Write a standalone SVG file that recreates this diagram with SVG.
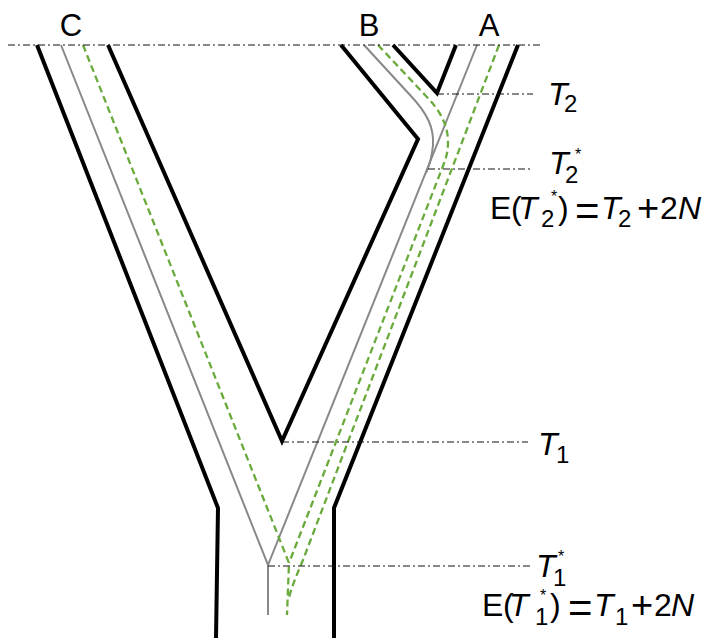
<svg xmlns="http://www.w3.org/2000/svg" width="709" height="638" viewBox="0 0 709 638">
<style>
.sp{fill:none;stroke:#000;stroke-width:4;stroke-linejoin:miter}
.gn{fill:none;stroke:#888;stroke-width:2}
.gd{fill:none;stroke:#6aaa3c;stroke-width:2.3;stroke-dasharray:7 4}
.tl{fill:none;stroke:#111;stroke-width:1;stroke-dasharray:7 3 2 3}
text{font-family:"Liberation Sans",Arial,sans-serif;fill:#000;font-size:32px}
.lb{text-anchor:middle;font-size:31px}
.i{font-style:italic}
.s{font-size:24px}
.a{font-size:16px}
.eq{font-size:42px}
.pl{font-size:38px}
</style>
<rect width="709" height="638" fill="#fff"/>
<g id="species-tree">
<path class="sp" d="M37,45 L218,508 L216,638"/>
<path class="sp" d="M108,45 L282,441 L418,139 L341,45"/>
<path class="sp" d="M393,45 L437,93 L456,45"/>
<path class="sp" d="M518,45 L334,508 L334,638"/>
</g>
<g id="connectors">
<g id="gene-tree-solid">
<path class="gn" d="M61,45 L268,565 L268,615"/>
<path class="gn" d="M477,45 L268,565"/>
<path class="gn" d="M364,45 L410,95 C428,114 434,128 433,145 C432,157 430,164 426,173"/>
</g>
<g id="gene-tree-dashed">
<path class="gd" d="M83,45 L289,563 L287,615"/>
<path class="gd" d="M378,45 L425,95 C440,110 448,125 448,142 C448,152 446,158 443,166 L289,563"/>
<path class="gd" d="M499,45 L303,560 Q291,588 289,598"/>
</g>
<g id="time-lines">
<path class="tl" d="M8,45 H542"/>
<path class="tl" d="M437,94 H533"/>
<path class="tl" d="M428,169 H532"/>
<path class="tl" d="M282,442 H528"/>
<path class="tl" d="M268,566 H533"/>
</g>
</g>
<g id="label-C"><text class="lb" x="71" y="36">C</text></g>
<g id="label-B"><text class="lb" x="369" y="36">B</text></g>
<g id="label-A"><text class="lb" x="489" y="36">A</text></g>
<g id="label-T2">
<text><tspan class="i" x="548" y="105">T</tspan><tspan class="s" x="564" y="112">2</tspan></text>
</g>
<g id="label-T2star">
<text><tspan class="i" x="549" y="174">T</tspan><tspan class="a" x="575" y="160">*</tspan><tspan class="s" x="565" y="183">2</tspan></text>
</g>
<g id="label-ET2">
<text><tspan x="490" y="219">E</tspan><tspan x="511" y="219">(</tspan><tspan class="i" x="518" y="219">T</tspan><tspan class="s" x="541" y="227">2</tspan><tspan class="a" x="551" y="202">*</tspan><tspan x="558" y="219">)</tspan><tspan class="eq" x="575" y="225">=</tspan><tspan class="i" x="601" y="219">T</tspan><tspan class="s" x="618" y="227">2</tspan><tspan class="pl" x="637" y="221">+</tspan><tspan x="660" y="219">2</tspan><tspan class="i" x="678" y="219">N</tspan></text>
</g>
<g id="label-T1">
<text><tspan class="i" x="538" y="455">T</tspan><tspan class="s" x="556" y="463">1</tspan></text>
</g>
<g id="label-T1star">
<text><tspan class="i" x="536" y="577">T</tspan><tspan class="a" x="558" y="562">*</tspan><tspan class="s" x="553" y="586">1</tspan></text>
</g>
<g id="label-ET1">
<text><tspan x="482" y="616">E</tspan><tspan x="503" y="616">(</tspan><tspan class="i" x="509" y="616">T</tspan><tspan class="s" x="535" y="625">1</tspan><tspan class="a" x="540" y="601">*</tspan><tspan x="550" y="616">)</tspan><tspan class="eq" x="568" y="622">=</tspan><tspan class="i" x="594" y="616">T</tspan><tspan class="s" x="615" y="625">1</tspan><tspan class="pl" x="631" y="618">+</tspan><tspan x="654" y="616">2</tspan><tspan class="i" x="671" y="616">N</tspan></text>
</g>
</svg>
